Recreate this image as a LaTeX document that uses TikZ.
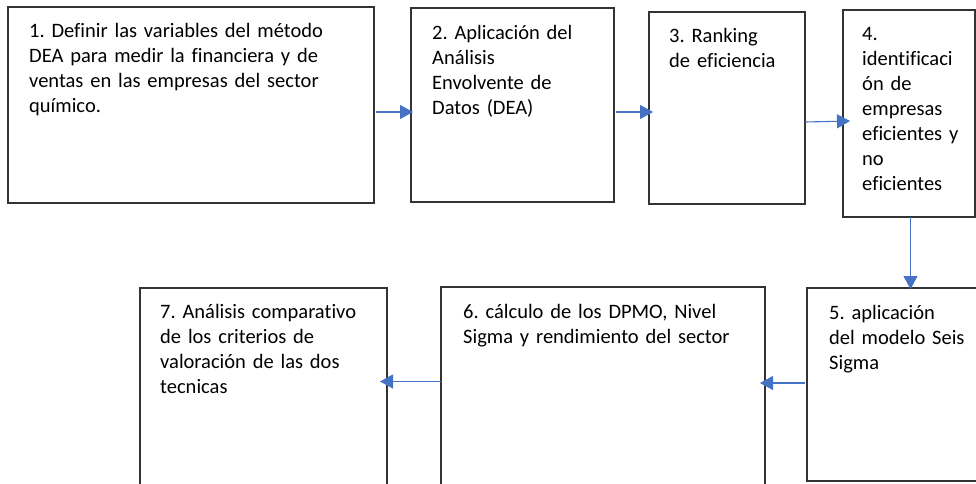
\documentclass[tikz,border=0pt]{standalone}
\usepackage{fontspec}
\setmainfont[Ligatures=NoCommon]{Carlito}
\usetikzlibrary{arrows.meta,calc}
\definecolor{arrblue}{HTML}{4472C4}
\definecolor{boxline}{HTML}{333333}
\frenchspacing
\tikzset{
  box/.style={draw=boxline, line width=1.3pt, anchor=north west, inner sep=0pt, outer sep=0pt},
  txt/.style={anchor=base west, inner sep=0pt, align=left, text width=340pt,
    font=\fontsize{20.5}{25}\selectfont\frenchspacing, text=black},
  arr/.style={draw=arrblue, line width=1.1pt, -{Triangle[length=13pt,width=14pt]}}
}
\begin{document}
\begin{tikzpicture}[x=1pt,y=-1pt]
\useasboundingbox (0,0) rectangle (976,483);
\clip (0,0) rectangle (976,483);
% boxes
\node[box, minimum width=366pt, minimum height=196pt] (b1) at (8,7) {};
\node[box, minimum width=203pt, minimum height=194pt] (b2) at (411,8) {};
\node[box, minimum width=156pt, minimum height=192pt] (b3) at (649,12) {};
\node[box, minimum width=132pt, minimum height=207pt] (b4) at (843,10) {};
\node[box, minimum width=190pt, minimum height=193pt] (b5) at (807,288) {};
\node[box, minimum width=324pt, minimum height=210pt] (b6) at (441,287) {};
\node[box, minimum width=247pt, minimum height=210pt] (b7) at (140,288) {};
% texts
\node[txt] (t1) at ($(b1.north west)+(21,30)$) {1. Definir las variables del método\\DEA para medir la financiera y de\\ventas en las empresas del sector\\químico.};
\node[txt] (t2) at ($(b2.north west)+(21,31)$) {2. Aplicación del\\Análisis\\Envolvente de\\Datos (DEA)};
\node[txt] (t3) at ($(b3.north west)+(20,30)$) {3. Ranking\\de eficiencia};
\node[txt] (t4) at ($(b4.north west)+(19,30)$) {4.\\identificaci\\ón de\\empresas\\eficientes y\\no\\eficientes};
\node[txt] (t5) at ($(b5.north west)+(22,31)$) {5. aplicación\\del modelo Seis\\Sigma};
\node[txt] (t6) at ($(b6.north west)+(22,31)$) {6. cálculo de los DPMO, Nivel\\Sigma y rendimiento del sector};
\node[txt] (t7) at ($(b7.north west)+(20,30)$) {7. Análisis comparativo\\de los criterios de\\valoración de las dos\\tecnicas};
% arrows
\draw[arr] ([xshift=2pt,yshift=-7pt]b1.east) -- ([xshift=2pt,yshift=-7pt]b2.west);
\draw[arr] ([xshift=2pt,yshift=-7pt]b2.east) -- ([xshift=4pt,yshift=-7pt]b2.east -| b3.west);
\draw[arr] ([yshift=-14pt]b3.east) -- ([xshift=7pt,yshift=-7.5pt]b4.west);
\draw[arr] ([xshift=1.5pt]b4.south) -- ([xshift=1.5pt,yshift=-1pt]b4.south |- b5.north);
\draw[arr] ([xshift=-2pt,yshift=1.5pt]b5.west) -- ([xshift=-5pt,yshift=1.5pt]b5.west -| b6.east);
\draw[arr] ([yshift=3pt]b6.west |- b5.west) -- ([xshift=-7pt,yshift=3pt]b5.west -| b7.east);
\end{tikzpicture}
\end{document}
